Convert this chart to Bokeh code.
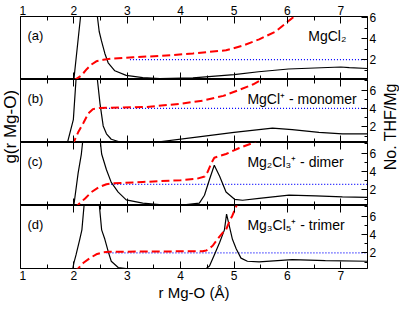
import math
from bokeh.plotting import figure
from bokeh.layouts import column, row
from bokeh.models import Range1d, LinearAxis, SingleIntervalTicker, Label
from bokeh.embed import file_html
from bokeh.resources import INLINE

FONT = "Liberation Sans"

# ---------------- data ----------------
panel_tags = ["(a)", "(b)", "(c)", "(d)"]
species = ["MgCl\u2082", "MgCl\u207a - monomer", "Mg\u2082Cl\u2083\u207a - dimer", "Mg\u2083Cl\u2085\u207a - trimer"]
x_title = "r Mg-O (\u00c5)"
left_title = "g(r Mg-O)"
right_title = "No. THF/Mg"

# (a) MgCl2
r_g_a = [1.0, 2.0, 2.125, 2.27, 2.44, 2.474, 2.517, 2.58, 2.642, 2.767, 2.98, 3.29, 3.61, 4.23, 5.0, 5.46, 6.02, 7.0, 7.16, 7.5]
g_a = [0, 0, 6.0, 13, 6.0, 4.57, 3.67, 2.48, 1.59, 0.83, 0.39, 0.18, 0.09, 0.15, 0.47, 0.74, 1.0, 1.19, 1.14, 1.05]
r_n_a = [2.0, 2.14, 2.24, 2.33, 2.42, 2.55, 2.735, 3.11, 3.61, 4.23, 4.85, 5.16, 5.47, 5.78, 6.03, 6.25]
n_a = [0.0, 0.48, 1.08, 1.53, 1.83, 1.98, 2.10, 2.22, 2.34, 2.58, 2.88, 3.32, 3.92, 4.67, 5.71, 6.6]
r_ref_a = [3.05, 7.5]
n_ref_a = [2.0, 2.0]

# (b) MgCl+ monomer
r_g_b = [1.0, 1.88, 1.99, 2.04, 2.22, 2.44, 2.49, 2.549, 2.61, 2.70, 2.85, 3.11, 3.60, 4.3, 5.0, 5.72, 6.09, 6.59, 7.03, 7.5]
g_b = [0, 0, 2.18, 6.0, 16, 6.0, 3.68, 1.58, 0.83, 0.31, 0.07, 0.02, 0.07, 0.52, 0.97, 1.37, 1.22, 0.97, 0.83, 0.83]
r_n_b = [1.97, 2.08, 2.18, 2.27, 2.36, 2.49, 3.36, 3.98, 4.41, 4.80, 5.11, 5.36, 5.55]
n_b = [0.0, 1.41, 2.44, 3.47, 3.93, 4.06, 4.16, 4.50, 4.85, 5.37, 6.05, 6.63, 7.25]
r_ref_b = [2.49, 7.5]
n_ref_b = [4.0, 4.0]

# (c) Mg2Cl3+ dimer
r_g_c = [1.0, 2.0, 2.08, 2.14, 2.33, 2.52, 2.61, 2.70, 2.83, 2.98, 3.29, 3.60, 3.98, 4.35, 4.446, 4.54, 4.63, 4.73, 4.85, 5.01, 5.16, 5.47, 6.03, 6.53, 7.03, 7.5]
g_c = [0, 0.05, 3.1, 4.9, 14, 4.9, 3.4, 2.2, 1.28, 0.53, 0.23, 0.08, 0.02, 0.23, 0.98, 2.48, 3.83, 2.79, 1.28, 0.59, 0.50, 0.68, 0.98, 0.92, 0.83, 0.77]
r_n_c = [2.0, 2.08, 2.21, 2.33, 2.46, 2.61, 2.73, 3.29, 4.0, 4.3, 4.45, 4.51, 4.57, 4.63, 4.85, 5.10, 5.35, 5.45]
n_c = [0.0, 0.39, 1.07, 1.76, 2.27, 2.61, 2.71, 2.86, 3.05, 3.2, 3.45, 4.0, 4.85, 5.5, 5.9, 6.55, 7.1, 7.4]
r_ref_c = [2.70, 7.5]
n_ref_c = [2.6, 2.6]

# (d) Mg3Cl5+ trimer
r_g_d = [1.0, 1.98, 2.0, 2.04, 2.11, 2.15, 2.33, 2.52, 2.58, 2.645, 2.70, 2.83, 2.98, 4.48, 4.54, 4.63, 4.73, 4.82, 4.86, 4.97, 5.04, 5.13, 5.25, 5.47, 6.09, 6.71, 7.5]
g_d = [0, 0, 0.54, 1.29, 2.78, 3.68, 14, 3.68, 2.78, 1.59, 0.69, 0.09, 0.0, 0.0, 0.24, 1.29, 2.48, 3.68, 5.18, 2.78, 1.89, 0.99, 0.69, 0.63, 0.84, 0.75, 0.69]
r_n_d = [2.0, 2.08, 2.18, 2.30, 2.42, 2.55, 2.67, 4.41, 4.48, 4.6, 4.69, 4.79, 4.85, 4.91, 4.97, 5.05, 5.12]
n_d = [0.0, 0.3, 0.92, 1.43, 1.84, 2.05, 2.12, 2.18, 2.25, 2.77, 3.49, 4.2, 4.52, 5.38, 6.07, 7.18, 7.7]
r_ref_d = [2.61, 7.5]
n_ref_d = [2.0, 2.0]

panels = [
    dict(rg=r_g_a, g=g_a, rn=r_n_a, n=n_a, rr=r_ref_a, nr=n_ref_a, nrange=(0.1, 6.1), sx=6.39),
    dict(rg=r_g_b, g=g_b, rn=r_n_b, n=n_b, rr=r_ref_b, nr=n_ref_b, nrange=(0.3, 7.15), sx=5.25),
    dict(rg=r_g_c, g=g_c, rn=r_n_c, n=n_c, rr=r_ref_c, nr=n_ref_c, nrange=(0.3, 7.15), sx=5.25),
    dict(rg=r_g_d, g=g_d, rn=r_n_d, n=n_d, rr=r_ref_d, nr=n_ref_d, nrange=(0.3, 7.15), sx=5.25),
]

# ---------------- layout ----------------
TOTAL_H = 303
LEFT_W = 19
RIGHT_W = 19
PANEL_W = 361
FRAME_H = 63
TOP_B = 16
BOT_B = 35

x_range = Range1d(1, 7.5)


def style_x_axis(ax, labels):
    ax.ticker = SingleIntervalTicker(interval=1, num_minor_ticks=2)
    ax.axis_line_color = None
    ax.major_tick_in = 7
    ax.major_tick_out = 0
    ax.minor_tick_in = 4
    ax.minor_tick_out = 0
    ax.major_tick_line_color = "black"
    ax.minor_tick_line_color = "black"
    if labels:
        ax.major_label_text_font = FONT
        ax.major_label_text_font_size = "12px"
        ax.major_label_text_color = "black"
        ax.major_label_standoff = 2
    else:
        ax.major_label_text_color = None
        ax.major_label_text_alpha = 0
        ax.major_label_text_font_size = "0px"
        ax.major_label_standoff = 0


figs = []
for i, pd_ in enumerate(panels):
    top = TOP_B if i == 0 else 0
    bot = BOT_B if i == 3 else 0
    p = figure(width=PANEL_W, height=FRAME_H + top + bot, x_range=x_range, y_range=Range1d(0, 6),
               output_backend="svg", toolbar_location=None,
               x_axis_location=None, y_axis_location=None,
               min_border_left=1, min_border_right=13, min_border_top=top, min_border_bottom=bot,
               outline_line_color="black", outline_line_width=1)
    p.grid.grid_line_color = None
    p.extra_y_ranges = {"n": Range1d(*pd_["nrange"])}

    above = LinearAxis()
    style_x_axis(above, i == 0)
    p.add_layout(above, "above")
    below = LinearAxis()
    style_x_axis(below, i == 3)
    if i == 3:
        below.axis_label = x_title
        below.axis_label_text_font = FONT
        below.axis_label_text_font_size = "15px"
        below.axis_label_text_font_style = "normal"
        below.axis_label_text_color = "black"
        below.axis_label_standoff = 1
    p.add_layout(below, "below")

    right = LinearAxis(y_range_name="n", ticker=SingleIntervalTicker(interval=2, num_minor_ticks=2))
    right.axis_line_color = None
    right.major_tick_in = 6
    right.major_tick_out = 0
    right.minor_tick_in = 3
    right.minor_tick_out = 0
    right.major_tick_line_color = "black"
    right.minor_tick_line_color = "black"
    right.major_label_text_font = FONT
    right.major_label_text_font_size = "12px"
    right.major_label_text_color = "black"
    right.major_label_standoff = 2
    p.add_layout(right, "right")

    p.line(pd_["rr"], pd_["nr"], y_range_name="n", line_color="#0000ff", line_width=1.2, line_dash="1 2")
    p.line(pd_["rg"], pd_["g"], line_color="black", line_width=1.2)
    p.line(pd_["rn"], pd_["n"], y_range_name="n", line_color="#ff0000", line_width=2, line_dash="8 4")

    p.add_layout(Label(x=1, y=6, x_offset=7, y_offset=-19, text=panel_tags[i],
                       text_font=FONT, text_font_size="13px", text_align="left",
                       text_baseline="middle", text_color="black"))
    p.add_layout(Label(x=pd_["sx"], y=6, y_offset=-19, text=species[i],
                       text_font=FONT, text_font_size="14px", text_align="left",
                       text_baseline="middle", text_color="black"))
    figs.append(p)

# vertical titles sit a little above the middle of the stack, as in the reference
yc = 1 - (TOP_B + 1.75 * FRAME_H) / TOTAL_H


def title_fig(w, text, size):
    f = figure(width=w, height=TOTAL_H, x_range=Range1d(0, 1), y_range=Range1d(0, 1),
               output_backend="svg", toolbar_location=None,
               x_axis_location=None, y_axis_location=None, min_border=0,
               outline_line_color=None)
    f.grid.grid_line_color = None
    f.add_layout(Label(x=0.5, y=yc, text=text, angle=math.pi / 2, text_font=FONT,
                       text_font_size=size, text_align="center", text_baseline="middle",
                       text_color="black"))
    return f


left = title_fig(LEFT_W, left_title, "17px")
rightf = title_fig(RIGHT_W, right_title, "16px")

layout = row(left, column(*figs, spacing=0), rightf, spacing=0)
open("out.html", "w").write(file_html(layout, INLINE))
